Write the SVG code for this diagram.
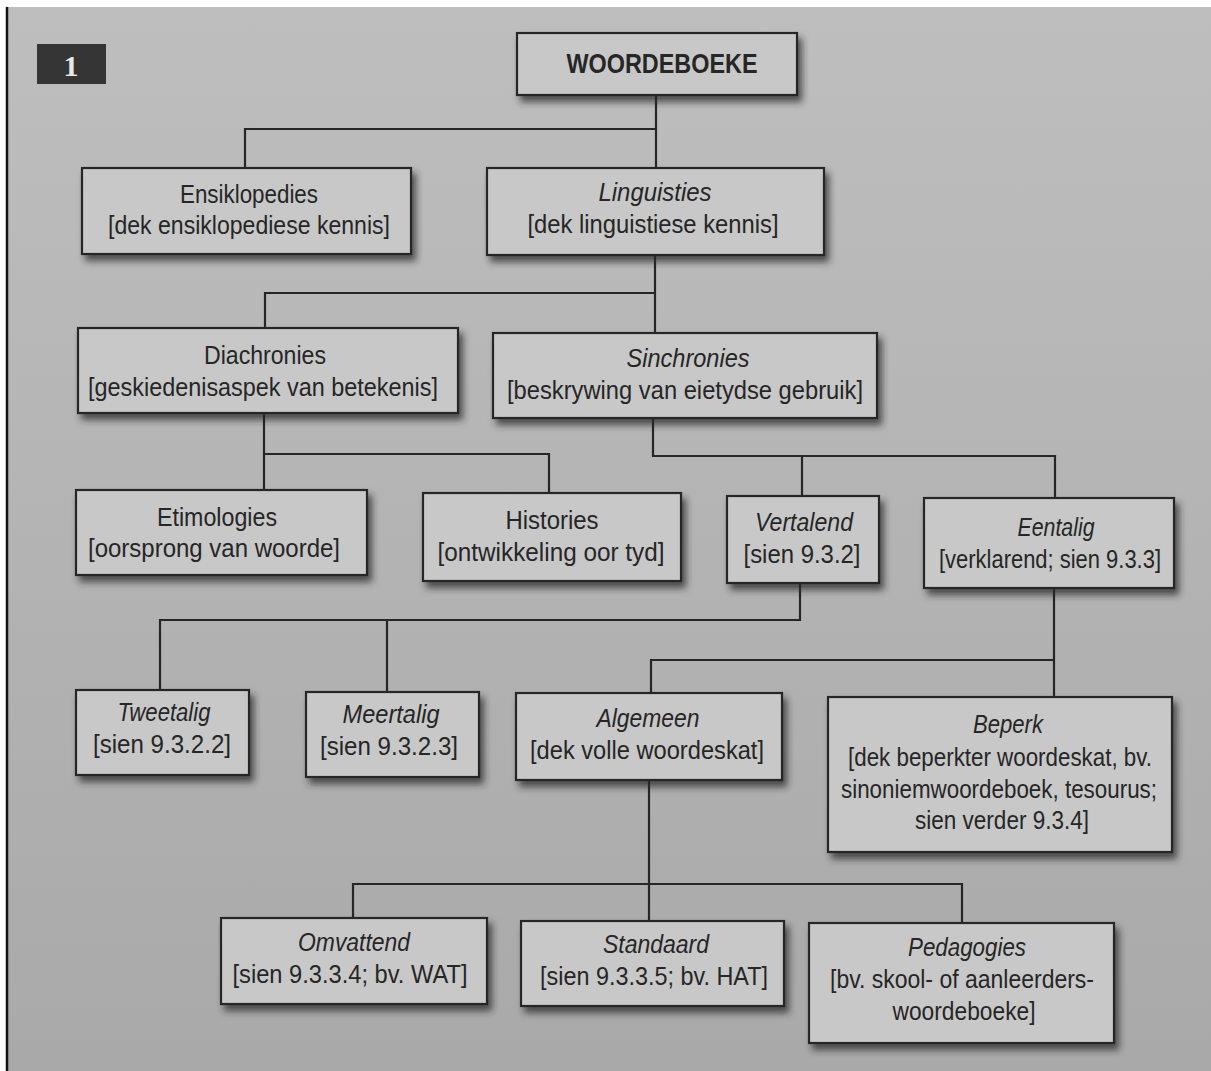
<svg xmlns="http://www.w3.org/2000/svg" width="1211" height="1071" viewBox="0 0 1211 1071">
<defs>
<linearGradient id="bg" x1="0" y1="0" x2="0" y2="1">
<stop offset="0" stop-color="#bebebe"/>
<stop offset="1" stop-color="#a9a9a9"/>
</linearGradient>
<filter id="sh" x="-10%" y="-10%" width="130%" height="140%">
<feDropShadow dx="4" dy="6" stdDeviation="3.5" flood-color="#2a2a2a" flood-opacity="0.75"/>
</filter>
<style>
.box{fill:#c8c8c8;stroke:#262626;stroke-width:2.2;filter:url(#sh)}
.t{font-family:"Liberation Sans",Arial,sans-serif;font-size:26px;fill:#262626;text-anchor:middle}
.i{font-style:italic}
.b{font-weight:bold;font-size:28px}
.c{fill:none;stroke:#262626;stroke-width:2.2}
</style>
</defs>
<rect x="0" y="0" width="1211" height="1071" fill="#ffffff"/>
<rect x="8" y="7" width="1203" height="1064" fill="url(#bg)"/>
<line x1="7" y1="7" x2="7" y2="1071" stroke="#111" stroke-width="2.5"/>

<g id="badge">
<rect x="37" y="44" width="69" height="40" fill="#353535"/>
<text x="71" y="76" font-family="Liberation Serif,serif" font-size="30" font-weight="bold" fill="#e8e8e8" text-anchor="middle">1</text>
</g>

<g id="connectors">
<path class="c" d="M656 95V168M245 168V129H656"/>
<path class="c" d="M655 255V333M265 328V293H655"/>
<path class="c" d="M264 413V490M264 454H549V493"/>
<path class="c" d="M653 418V456H1055V498M802 456V496"/>
<path class="c" d="M800 583V620H160V690M387 620V692"/>
<path class="c" d="M1054 588V697M651 693V660H1054"/>
<path class="c" d="M649 780V921M353 918V884H962V923"/>
</g>

<g id="n-woordeboeke">
<rect class="box" x="517" y="33" width="280" height="62"/>
<text class="t b" x="662" y="73" textLength="191" lengthAdjust="spacingAndGlyphs">WOORDEBOEKE</text>
</g>
<g id="n-ensiklopedies">
<rect class="box" x="82" y="168" width="329" height="86"/>
<text class="t" x="249" y="203" textLength="138" lengthAdjust="spacingAndGlyphs">Ensiklopedies</text>
<text class="t" x="249" y="234" textLength="282" lengthAdjust="spacingAndGlyphs">[dek ensiklopediese kennis]</text>
</g>
<g id="n-linguisties">
<rect class="box" x="487" y="168" width="337" height="87"/>
<text class="t i" x="655" y="201" textLength="113" lengthAdjust="spacingAndGlyphs">Linguisties</text>
<text class="t" x="653" y="233" textLength="251" lengthAdjust="spacingAndGlyphs">[dek linguistiese kennis]</text>
</g>
<g id="n-diachronies">
<rect class="box" x="78" y="328" width="380" height="85"/>
<text class="t" x="265" y="364" textLength="122" lengthAdjust="spacingAndGlyphs">Diachronies</text>
<text class="t" x="263" y="396" textLength="350" lengthAdjust="spacingAndGlyphs">[geskiedenisaspek van betekenis]</text>
</g>
<g id="n-sinchronies">
<rect class="box" x="493" y="333" width="384" height="85"/>
<text class="t i" x="688" y="367" textLength="123" lengthAdjust="spacingAndGlyphs">Sinchronies</text>
<text class="t" x="685" y="399" textLength="356" lengthAdjust="spacingAndGlyphs">[beskrywing van eietydse gebruik]</text>
</g>
<g id="n-etimologies">
<rect class="box" x="76" y="490" width="291" height="85"/>
<text class="t" x="217" y="526" textLength="120" lengthAdjust="spacingAndGlyphs">Etimologies</text>
<text class="t" x="214" y="557" textLength="252" lengthAdjust="spacingAndGlyphs">[oorsprong van woorde]</text>
</g>
<g id="n-histories">
<rect class="box" x="423" y="493" width="258" height="88"/>
<text class="t" x="552" y="529" textLength="93" lengthAdjust="spacingAndGlyphs">Histories</text>
<text class="t" x="551" y="561" textLength="227" lengthAdjust="spacingAndGlyphs">[ontwikkeling oor tyd]</text>
</g>
<g id="n-vertalend">
<rect class="box" x="727" y="496" width="152" height="87"/>
<text class="t i" x="804" y="531" textLength="98" lengthAdjust="spacingAndGlyphs">Vertalend</text>
<text class="t" x="802" y="563" textLength="117" lengthAdjust="spacingAndGlyphs">[sien 9.3.2]</text>
</g>
<g id="n-eentalig">
<rect class="box" x="924" y="498" width="250" height="90"/>
<text class="t i" x="1056" y="536" textLength="77" lengthAdjust="spacingAndGlyphs">Eentalig</text>
<text class="t" x="1050" y="568" textLength="222" lengthAdjust="spacingAndGlyphs">[verklarend; sien 9.3.3]</text>
</g>
<g id="n-tweetalig">
<rect class="box" x="76" y="690" width="173" height="85"/>
<text class="t i" x="164" y="721" textLength="93" lengthAdjust="spacingAndGlyphs">Tweetalig</text>
<text class="t" x="162" y="753" textLength="138" lengthAdjust="spacingAndGlyphs">[sien 9.3.2.2]</text>
</g>
<g id="n-meertalig">
<rect class="box" x="306" y="692" width="173" height="85"/>
<text class="t i" x="391" y="723" textLength="97" lengthAdjust="spacingAndGlyphs">Meertalig</text>
<text class="t" x="389" y="755" textLength="138" lengthAdjust="spacingAndGlyphs">[sien 9.3.2.3]</text>
</g>
<g id="n-algemeen">
<rect class="box" x="516" y="693" width="266" height="87"/>
<text class="t i" x="648" y="727" textLength="103" lengthAdjust="spacingAndGlyphs">Algemeen</text>
<text class="t" x="647" y="759" textLength="234" lengthAdjust="spacingAndGlyphs">[dek volle woordeskat]</text>
</g>
<g id="n-beperk">
<rect class="box" x="828" y="697" width="344" height="155"/>
<text class="t i" x="1008" y="733" textLength="70" lengthAdjust="spacingAndGlyphs">Beperk</text>
<text class="t" x="1000" y="766" textLength="304" lengthAdjust="spacingAndGlyphs">[dek beperkter woordeskat, bv.</text>
<text class="t" x="999" y="798" textLength="316" lengthAdjust="spacingAndGlyphs">sinoniemwoordeboek, tesourus;</text>
<text class="t" x="1002" y="829" textLength="174" lengthAdjust="spacingAndGlyphs">sien verder 9.3.4]</text>
</g>
<g id="n-omvattend">
<rect class="box" x="221" y="918" width="266" height="86"/>
<text class="t i" x="354" y="951" textLength="112" lengthAdjust="spacingAndGlyphs">Omvattend</text>
<text class="t" x="350" y="983" textLength="235" lengthAdjust="spacingAndGlyphs">[sien 9.3.3.4; bv. WAT]</text>
</g>
<g id="n-standaard">
<rect class="box" x="521" y="921" width="263" height="85"/>
<text class="t i" x="656" y="953" textLength="106" lengthAdjust="spacingAndGlyphs">Standaard</text>
<text class="t" x="654" y="985" textLength="228" lengthAdjust="spacingAndGlyphs">[sien 9.3.3.5; bv. HAT]</text>
</g>
<g id="n-pedagogies">
<rect class="box" x="809" y="923" width="305" height="120"/>
<text class="t i" x="967" y="956" textLength="118" lengthAdjust="spacingAndGlyphs">Pedagogies</text>
<text class="t" x="962" y="988" textLength="264" lengthAdjust="spacingAndGlyphs">[bv. skool- of aanleerders-</text>
<text class="t" x="964" y="1020" textLength="143" lengthAdjust="spacingAndGlyphs">woordeboeke]</text>
</g>
</svg>
